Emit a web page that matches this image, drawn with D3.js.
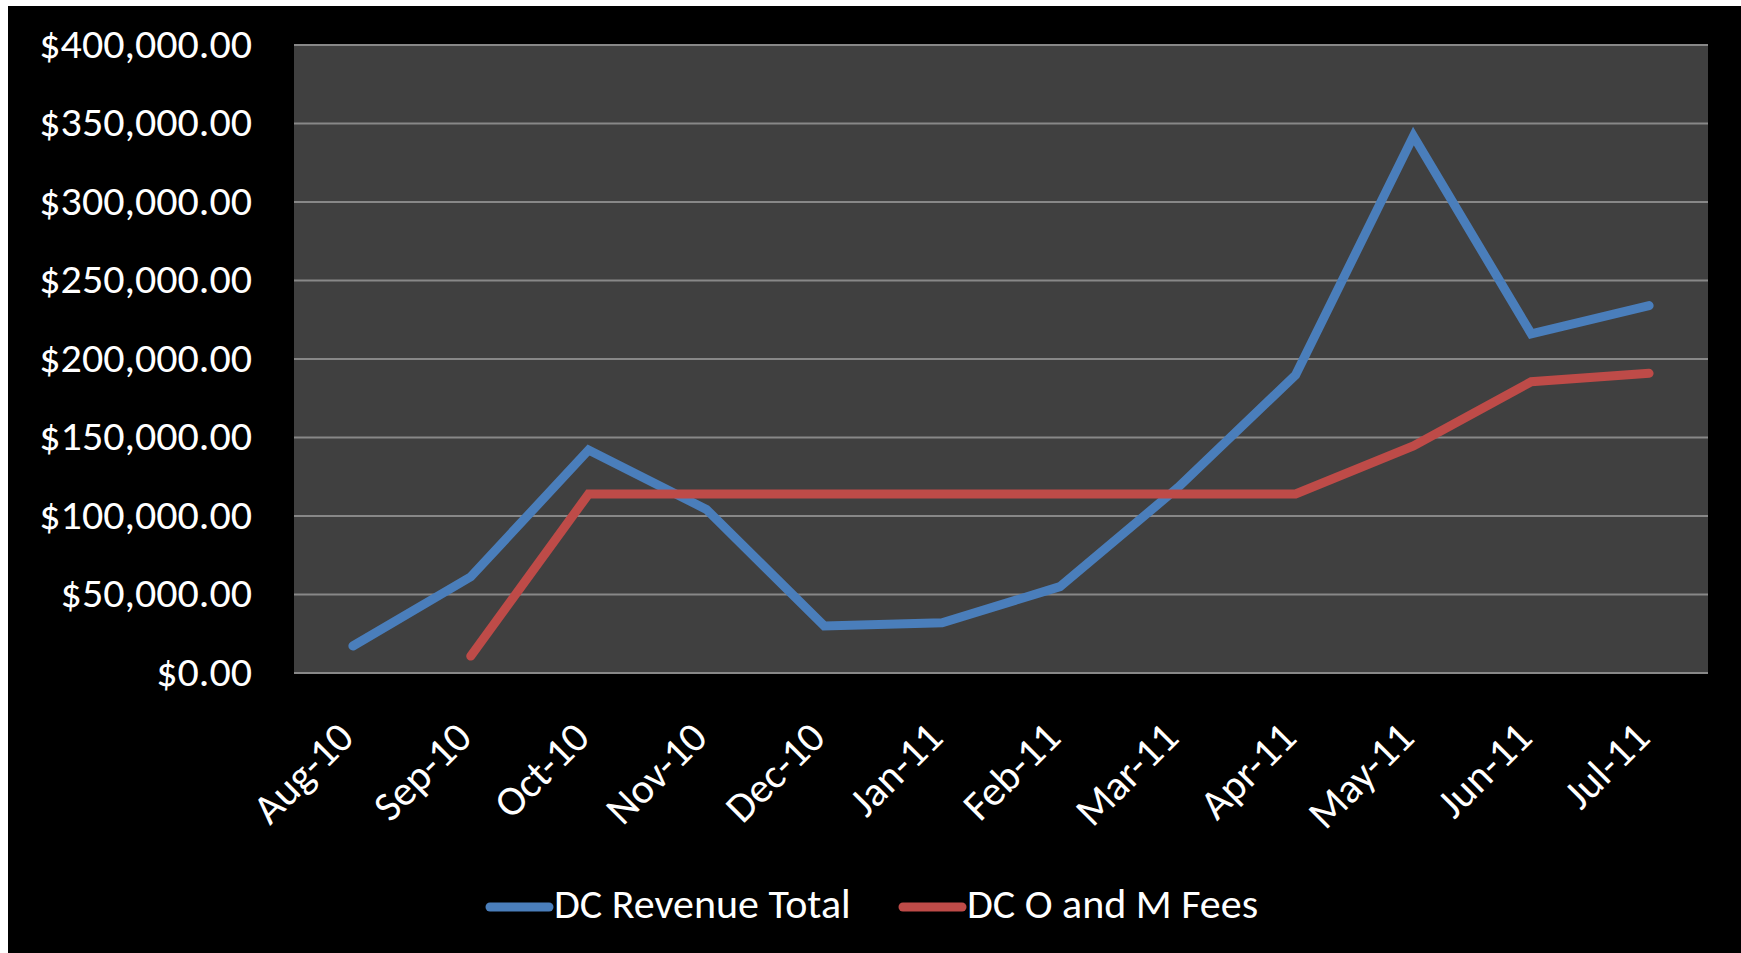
<!DOCTYPE html>
<html>
<head>
<meta charset="utf-8">
<script src="https://cdn.jsdelivr.net/npm/d3@7/dist/d3.min.js"></script>
<style>
  body { margin: 0; background: #fff; }
  text { font-family: Calibri, Carlito, "Open Sans", sans-serif; fill: #fff; }
</style>
</head>
<body>
<div id="chart"></div>
<script>
// --- datos ---
const months = ["Aug-10", "Sep-10", "Oct-10", "Nov-10", "Dec-10", "Jan-11",
                "Feb-11", "Mar-11", "Apr-11", "May-11", "Jun-11", "Jul-11"];
const revenueTotal = [17200, 61300, 142000, 104200, 30000, 32000,
                      55000, 118000, 189800, 342000, 216000, 234000];
const omFees = [null, 10800, 114000, 114000, 114000, 114000,
                114000, 114000, 114000, 144600, 185500, 190900];
const yTicks = [0, 50000, 100000, 150000, 200000, 250000, 300000, 350000, 400000];
const seriesNames = ["DC Revenue Total", "DC O and M Fees"];
const seriesColors = ["#4a7ebb", "#be4b48"];

// --- lienzo ---
const W = 1741, H = 953;
const plot = {left: 294, right: 1708, top: 45, bottom: 673};

const svg = d3.select("#chart").append("svg")
  .attr("width", W)
  .attr("height", H);

// fondo negro (con borde blanco arriba e izquierda)
svg.append("rect")
  .attr("x", 8).attr("y", 6)
  .attr("width", W - 8).attr("height", H - 6)
  .attr("fill", "#000");

svg.append("rect")
  .attr("x", plot.left).attr("y", plot.top)
  .attr("width", plot.right - plot.left)
  .attr("height", plot.bottom - plot.top)
  .attr("fill", "#404040");

// --- escalas ---
const x = d3.scaleBand()
  .domain(months)
  .range([plot.left, plot.right])
  .padding(0);

const y = d3.scaleLinear()
  .domain([0, 400000])
  .range([plot.bottom, plot.top]);

const cx = d => x(d) + x.bandwidth() / 2;

// --- rejilla ---
svg.append("g")
  .selectAll("line")
  .data(yTicks)
  .join("line")
    .attr("x1", plot.left)
    .attr("x2", plot.right)
    .attr("y1", d => y(d))
    .attr("y2", d => y(d))
    .attr("stroke", "#888")
    .attr("stroke-width", 2);

// --- etiquetas eje Y ---
const fmt = d3.format("$,.2f");
svg.append("g")
  .selectAll("text")
  .data(yTicks)
  .join("text")
    .attr("x", 252)
    .attr("y", d => y(d))
    .attr("dy", "0.3em")
    .attr("text-anchor", "end")
    .style("font-size", "42px")
    .text(d => fmt(d));

// --- etiquetas eje X (rotadas) ---
svg.append("g")
  .selectAll("text")
  .data(months)
  .join("text")
    .attr("text-anchor", "end")
    .attr("transform", d => `translate(${cx(d) + 3},${plot.bottom + 67}) rotate(-45)`)
    .style("font-size", "42px")
    .text(d => d);

// --- líneas ---
const line = d3.line()
  .defined(d => d.v != null)
  .x(d => cx(d.m))
  .y(d => y(d.v));

[revenueTotal, omFees].forEach((vals, i) => {
  svg.append("path")
    .datum(months.map((m, j) => ({m: m, v: vals[j]})))
    .attr("fill", "none")
    .attr("stroke", seriesColors[i])
    .attr("stroke-width", 9)
    .attr("stroke-linecap", "round")
    .attr("stroke-linejoin", "miter")
    .attr("d", line);
});

// --- leyenda ---
const legendX = [490, 903];
const legend = svg.append("g");
seriesNames.forEach((name, i) => {
  legend.append("line")
    .attr("x1", legendX[i]).attr("x2", legendX[i] + 59)
    .attr("y1", 907).attr("y2", 907)
    .attr("stroke", seriesColors[i])
    .attr("stroke-width", 9)
    .attr("stroke-linecap", "round");
  legend.append("text")
    .attr("x", legendX[i] + 64)
    .attr("y", 918)
    .style("font-size", "42px")
    .text(name);
});
</script>
</body>
</html>
